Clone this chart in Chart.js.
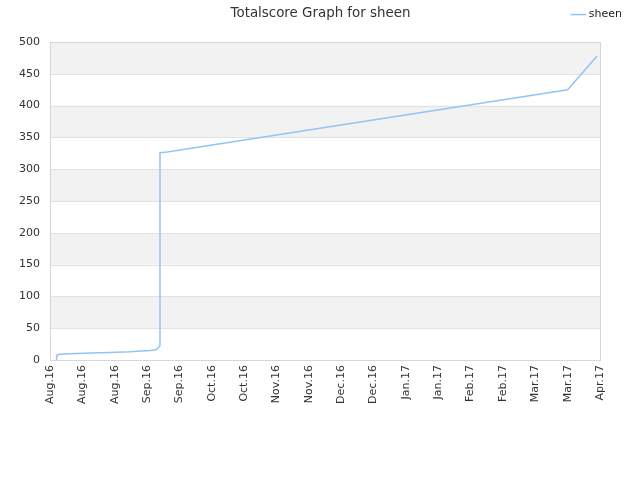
<!DOCTYPE html>
<html>
<head>
<meta charset="utf-8">
<script src="https://cdn.jsdelivr.net/npm/chart.js@4"></script>
<style>
  html, body { margin: 0; padding: 0; background: #fff; }
</style>
</head>
<body>
<canvas id="chart" width="640" height="480"></canvas>
<script>
  // tick labels along the x axis (one per tick index)
  const tickLabels = ['Aug.16','Aug.16','Aug.16','Sep.16','Sep.16','Oct.16','Oct.16','Nov.16','Nov.16',
    'Dec.16','Dec.16','Jan.17','Jan.17','Feb.17','Feb.17','Mar.17','Mar.17','Apr.17'];

  // series, x measured in tick-index units
  const timeIdx = [0.2, 0.22, 0.31, 0.62, 1.24, 1.85, 2.47, 3.09, 3.28, 3.34, 3.40, 3.40, 3.62, 16.0, 16.91];
  const scores  = [0,   8,    9,    10,   11,   12,   13,   15,   16,   19,   23,   326,  327,  425,  478];

  const seriesName = 'sheen';
  const lineColor = '#92c5f5';

  const bands = {
    id: 'bands',
    beforeDatasetsDraw(chart) {
      const { ctx, chartArea: a, scales: { y } } = chart;
      ctx.save();
      ctx.fillStyle = '#f2f2f2';
      for (let v = 50; v < 500; v += 100) {
        const top = y.getPixelForValue(v + 50), bot = y.getPixelForValue(v);
        ctx.fillRect(a.left, top, a.right - a.left, bot - top);
      }
      ctx.strokeStyle = '#e2e2e2';
      ctx.lineWidth = 1;
      for (let v = 50; v <= 500; v += 50) {
        const py = Math.round(y.getPixelForValue(v)) + 0.5;
        ctx.beginPath(); ctx.moveTo(a.left, py); ctx.lineTo(a.right, py); ctx.stroke();
      }
      ctx.strokeStyle = '#d6d6d6';
      ctx.strokeRect(Math.round(a.left) + 0.5, Math.round(a.top) + 0.5,
        Math.round(a.right - a.left), Math.round(a.bottom - a.top));
      ctx.restore();
    }
  };

  // empty axes used only to reserve space
  const spacer = (size) => ({
    display: true,
    grid: { display: false, drawTicks: false },
    border: { display: false },
    ticks: { display: false },
    afterFit(scale) {
      if (scale.isHorizontal()) scale.height = size; else scale.width = size;
    }
  });

  new Chart(document.getElementById('chart'), {
    type: 'line',
    data: {
      datasets: [{
        label: seriesName,
        data: timeIdx.map((x, i) => ({ x: x, y: scores[i] })),
        borderColor: lineColor,
        backgroundColor: lineColor,
        borderWidth: 1.5,
        pointRadius: 0,
        tension: 0
      }]
    },
    options: {
      responsive: false,
      animation: false,
      layout: { padding: { left: 9, right: 8, top: 0, bottom: 69 } },
      plugins: {
        title: {
          display: true,
          text: 'Totalscore Graph for sheen',
          color: '#333',
          font: { family: 'DejaVu Sans', size: 13.4, weight: 'normal' },
          padding: { top: 5, bottom: -22 }
        },
        legend: {
          display: true,
          align: 'end',
          labels: {
            usePointStyle: true,
            pointStyle: 'line',
            boxWidth: 10,
            color: '#222',
            font: { family: 'DejaVu Sans', size: 11 },
            padding: 10
          }
        },
        tooltip: { enabled: false }
      },
      scales: {
        x: {
          type: 'linear',
          min: 0,
          max: tickLabels.length - 1,
          grid: { display: false, drawTicks: false },
          border: { display: false },
          afterBuildTicks(scale) {
            scale.ticks = tickLabels.map((_, i) => ({ value: i }));
          },
          ticks: {
            minRotation: 90,
            maxRotation: 90,
            autoSkip: false,
            padding: 6,
            color: '#333',
            font: { family: 'DejaVu Sans', size: 11 },
            callback: (v) => tickLabels[v]
          }
        },
        xTop: Object.assign(spacer(11), { type: 'linear', position: 'top' }),
        y: {
          min: 0,
          max: 500,
          grid: { display: false, drawTicks: false },
          border: { display: false },
          ticks: {
            stepSize: 50,
            padding: 10,
            color: '#333',
            font: { family: 'DejaVu Sans', size: 11 }
          }
        },
        yRight: Object.assign(spacer(32), { type: 'linear', position: 'right' })
      }
    },
    plugins: [bands]
  });
</script>
</body>
</html>
